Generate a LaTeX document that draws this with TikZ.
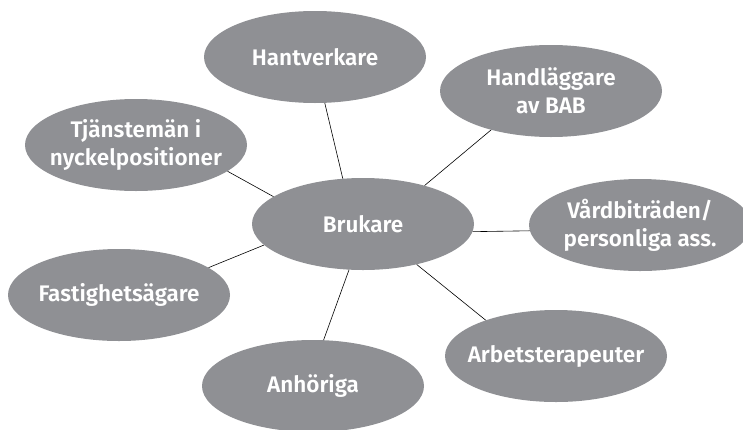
\documentclass[tikz,border=0pt]{standalone}
\usepackage{fontspec}
\setmainfont{Fira Sans}[BoldFont={Fira Sans SemiBold}]
\usetikzlibrary{shapes.geometric}
\definecolor{bubble}{RGB}{143,144,148}
\tikzset{
  bub/.style={ellipse, fill=bubble, draw=none, inner xsep=-50pt, inner ysep=0pt,
    minimum width=222pt, minimum height=92pt, text=white,
    font=\fontsize{22.5pt}{28pt}\selectfont\bfseries, align=center},
  link/.style={draw=black, line width=0.6pt}
}
\begin{document}
\begin{tikzpicture}[x=1pt,y=-1pt]
\useasboundingbox (0,0) rectangle (743,429);
\clip (0,0) rectangle (743,429);
\node[bub] (hant) at (315,57) {Hantverkare};
\node[bub] (tjan) at (136,145) {Tjänstemän i\\nyckelpositioner};
\node[bub] (hand) at (551,91) {Handläggare\\av BAB};
\node[bub] (bruk) at (363,224) {Brukare};
\node[bub] (vard) at (640,225) {Vårdbiträden/\\personliga ass.};
\node[bub] (fast) at (119,295) {Fastighetsägare};
\node[bub] (anho) at (313,386) {Anhöriga};
\node[bub] (arbe) at (556,356) {Arbetsterapeuter};
\draw[link] (hant.-78) -- (bruk.114);
\draw[link] (tjan.-16) -- (bruk.163);
\draw[link] (hand.213) -- (bruk.32);
\draw[link] (bruk.-4) -- (vard.183);
\draw[link] (bruk.192) -- (fast.17);
\draw[link] (bruk.253) -- (anho.77);
\draw[link] (bruk.-37) -- (arbe.153);
\end{tikzpicture}
\end{document}
